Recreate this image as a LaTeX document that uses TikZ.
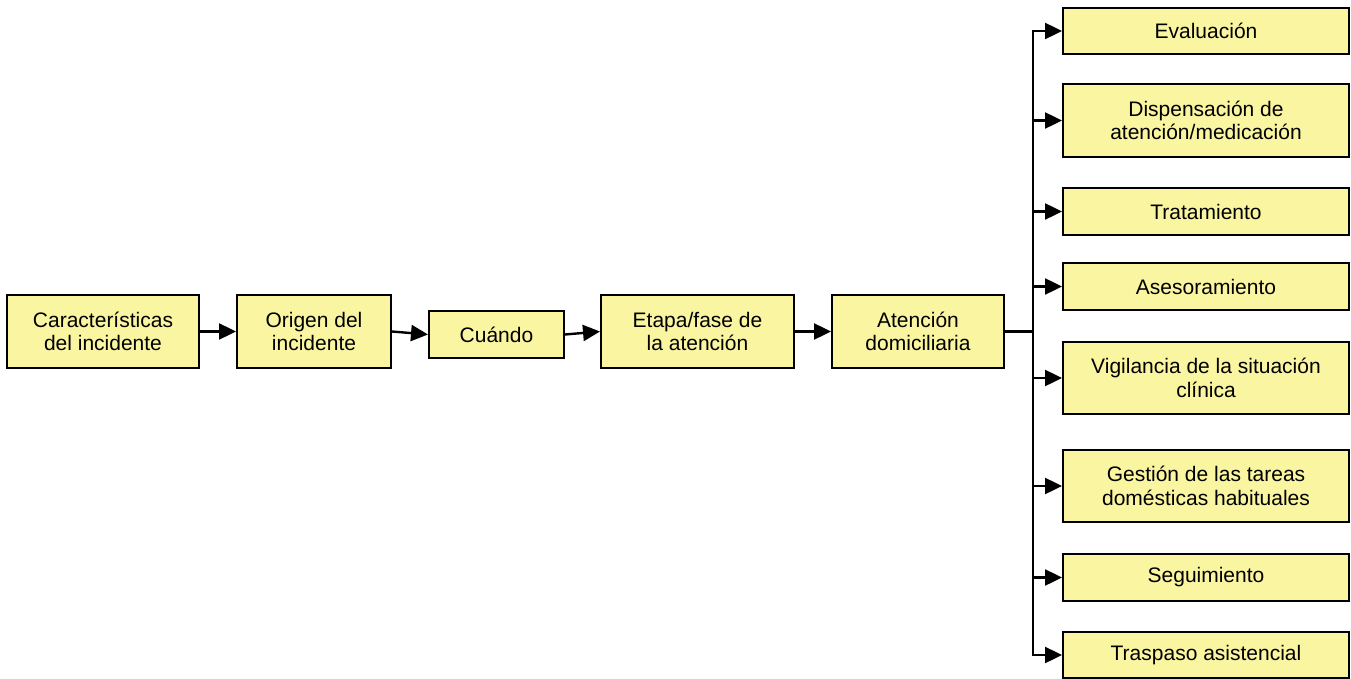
\documentclass[tikz,border=0pt]{standalone}
\usepackage{fontspec}
\setmainfont{Liberation Sans}
\usetikzlibrary{arrows.meta}
\definecolor{boxfill}{RGB}{250,245,160}
\tikzset{
  box/.style={draw=black, fill=boxfill, line width=2pt, rectangle, inner sep=0pt,
    align=center, font=\fontsize{21}{23.5}\selectfont, text=black},
  arr/.style={line width=2.4pt, -{Triangle[length=17pt,width=16pt]}},
  ln/.style={line width=2.4pt}
}
\begin{document}
\begin{tikzpicture}[x=1pt,y=-1pt]
\useasboundingbox (0,0) rectangle (1351,679);
% main chain
\node[box, minimum width=192pt, minimum height=73pt] (c1) at (103,331.5) {Características\\del incidente};
\node[box, minimum width=154pt, minimum height=73pt] (c2) at (314,331.5) {Origen del\\incidente};
\node[box, minimum width=135pt, minimum height=47pt] (c3) at (496.5,334.5) {Cuándo};
\node[box, minimum width=193pt, minimum height=73pt] (c4) at (697.5,331.5) {Etapa/fase de\\la atención};
\node[box, minimum width=172pt, minimum height=73pt] (c5) at (918,331.5) {Atención\\domiciliaria};
% right column
\node[box, minimum width=286pt, minimum height=46pt] (r1) at (1206,31) {Evaluación};
\node[box, minimum width=286pt, minimum height=73pt] (r2) at (1206,120.5) {Dispensación de\\atención/medicación};
\node[box, minimum width=286pt, minimum height=47pt] (r3) at (1206,211.5) {Tratamiento};
\node[box, minimum width=286pt, minimum height=47pt] (r4) at (1206,286.5) {Asesoramiento};
\node[box, minimum width=286pt, minimum height=72pt] (r5) at (1206,378) {Vigilancia de la situación\\clínica};
\node[box, minimum width=286pt, minimum height=72pt] (r6) at (1206,486) {Gestión de las tareas\\domésticas habituales};
\node[box, minimum width=286pt, minimum height=47pt] (r7) at (1206,577.5) {Seguimiento};
\node[box, minimum width=286pt, minimum height=46pt] (r8) at (1206,655) {Traspaso asistencial};
% connectors
\draw[arr] (c1.east) -- (c2.west);
\draw[arr] (c2.east) -- (c3.west);
\draw[arr] (c3.east) -- (c4.west);
\draw[arr] (c4.east) -- (c5.west);
\coordinate (j) at (1033,331.5);
\draw[ln] (c5.east) -- (j);
\foreach \r in {r1,r2,r3,r4,r5,r6,r7,r8}{
  \draw[arr] (j) |- (\r.west);
}
\end{tikzpicture}
\end{document}
